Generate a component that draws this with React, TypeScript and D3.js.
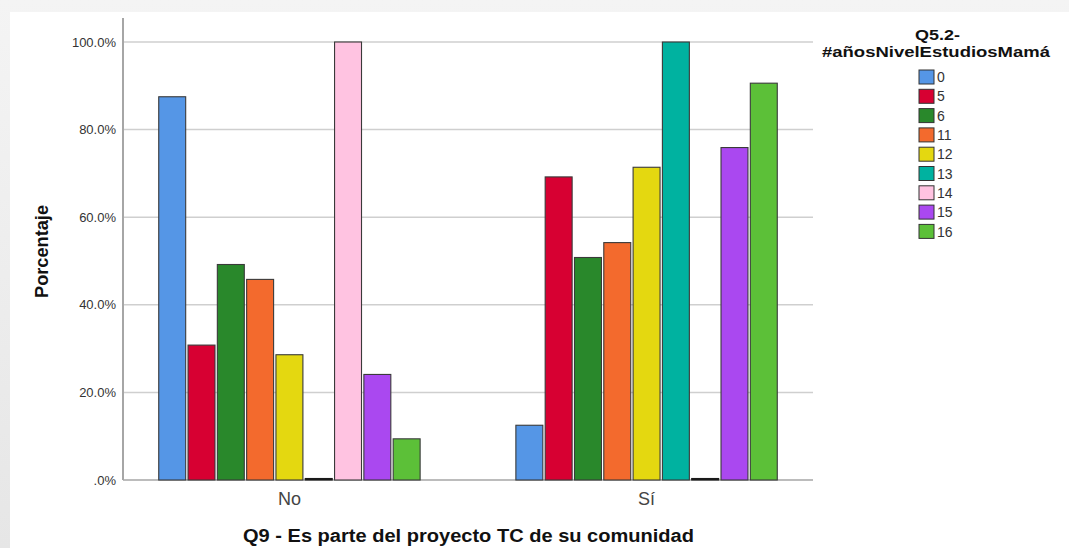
import React from "react";
import * as d3 from "d3";

const groups = ["No", "Sí"];
const seriesNames = ["0", "5", "6", "11", "12", "13", "14", "15", "16"];
const colors = ["#5596e6", "#d70032", "#29882b", "#f36a2d", "#e4d810", "#00b2a0", "#ffc3e1", "#aa48f0", "#5cc038"];
const valuesNo = [87.5, 30.8, 49.2, 45.8, 28.6, 0, 100, 24.1, 9.4];
const valuesSi = [12.5, 69.2, 50.8, 54.2, 71.4, 100, 0, 75.9, 90.6];
const yTicks = [0, 20, 40, 60, 80, 100];
const tickLabels = [".0%", "20.0%", "40.0%", "60.0%", "80.0%", "100.0%"];
const xTitle = "Q9 - Es parte del proyecto TC de su comunidad";
const yTitle = "Porcentaje";
const legendTitle = ["Q5.2-", "#añosNivelEstudiosMamá"];

const W = 1069;
const H = 548;
const left = 123;
const right = 813;
const top = 42;
const bottom = 480;
const font = "'Liberation Sans', Arial, sans-serif";

export default function App() {
  const y = d3.scaleLinear().domain([0, 100]).range([bottom, top]);
  const x = d3.scalePoint<string>().domain(groups).range([left, right]).padding(0.466);
  const inner = d3.scaleBand<string>().domain(seriesNames).range([-130.7, 130.7]).paddingInner(0.08);
  const data = [valuesNo, valuesSi];

  return (
    <div style={{ position: "fixed", left: 0, top: 0 }}>
      <svg width={W} height={H} style={{ display: "block" }}>
        <defs>
          <linearGradient id="topg" x1="0" y1="0" x2="0" y2="1">
            <stop offset="0" stopColor="#f4f4f4" />
            <stop offset="1" stopColor="#e6e6e6" />
          </linearGradient>
        </defs>
        <rect x={0} y={0} width={W} height={H} fill="url(#topg)" />
        <rect x={10} y={12} width={W - 10} height={H - 12} fill="#ffffff" />

        {/* gridlines */}
        {yTicks.filter((t) => t > 0).map((t) => (
          <line key={t} x1={left} x2={right} y1={y(t)} y2={y(t)} stroke="#cfcfcf" strokeWidth={1.5} />
        ))}

        {/* axes */}
        <line x1={left} x2={left} y1={y(105.5)} y2={bottom} stroke="#a6a6a6" strokeWidth={2} />
        <line x1={left} x2={right} y1={bottom} y2={bottom} stroke="#a6a6a6" strokeWidth={1.5} />

        {/* bars */}
        {groups.map((g, gi) => (
          <g key={g} transform={`translate(${x(g)},0)`}>
            {seriesNames.map((s, si) => {
              const v = data[gi][si];
              const h = y(0) - y(v);
              const zero = h < 1;
              return (
                <rect
                  key={s}
                  x={inner(s)!}
                  y={zero ? y(0) - 1.5 : y(v)}
                  width={inner.bandwidth()}
                  height={zero ? 1.5 : h}
                  fill={zero ? "#1a1a1a" : colors[si]}
                  stroke={zero ? "#1a1a1a" : "#3a3a3a"}
                  strokeWidth={1.1}
                />
              );
            })}
          </g>
        ))}

        {yTicks.map((t, i) => (
          <text key={t} x={116} y={y(t)} dy="0.35em" textAnchor="end" fontFamily={font} fontSize={13} fill="#333">
            {tickLabels[i]}
          </text>
        ))}

        {groups.map((g) => (
          <text key={g} x={x(g)} y={505} textAnchor="middle" fontFamily={font} fontSize={18} fill="#444">
            {g}
          </text>
        ))}

        <text
          x={243}
          y={542}
          fontFamily={font}
          fontSize={18}
          fontWeight="bold"
          fill="#111"
          textLength={451}
          lengthAdjust="spacingAndGlyphs"
        >
          {xTitle}
        </text>
        <text
          transform={`translate(48,298) rotate(-90)`}
          fontFamily={font}
          fontSize={18}
          fontWeight="bold"
          fill="#111"
          textLength={93}
          lengthAdjust="spacingAndGlyphs"
        >
          {yTitle}
        </text>

        {/* legend */}
        <text x={915} y={40} fontFamily={font} fontSize={15} fontWeight="bold" fill="#111" textLength={45} lengthAdjust="spacingAndGlyphs">
          {legendTitle[0]}
        </text>
        <text x={822} y={57} fontFamily={font} fontSize={15} fontWeight="bold" fill="#111" textLength={228} lengthAdjust="spacingAndGlyphs">
          {legendTitle[1]}
        </text>
        {seriesNames.map((s, i) => (
          <g key={s} transform={`translate(919,${70 + i * 19.3})`}>
            <rect x={0} y={0} width={15} height={14} fill={colors[i]} stroke="#333" strokeWidth={1} />
            <text x={18} y={7} dy="0.37em" fontFamily={font} fontSize={14} fill="#333">
              {s}
            </text>
          </g>
        ))}
      </svg>
    </div>
  );
}
